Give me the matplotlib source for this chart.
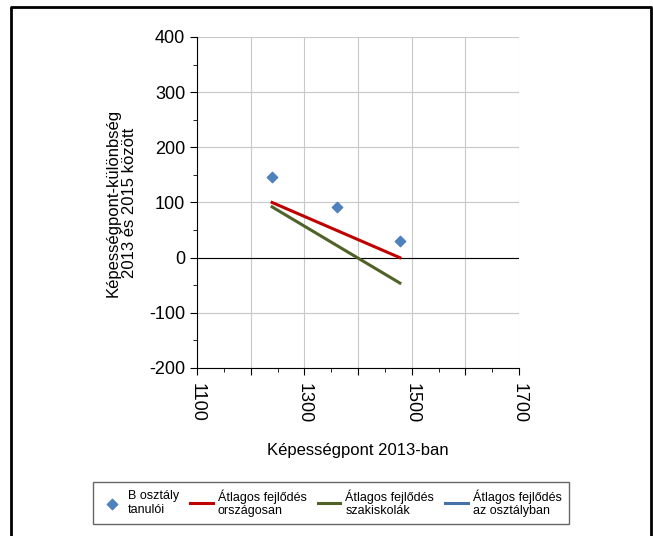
import matplotlib
matplotlib.use("Agg")
import matplotlib.pyplot as plt
from matplotlib.lines import Line2D
from matplotlib.ticker import MultipleLocator, FixedLocator

plt.rcParams['font.family'] = ['Liberation Sans', 'DejaVu Sans']
plt.rcParams['axes.unicode_minus'] = False

# adatok
tanulo_x = [1240, 1361, 1478]
tanulo_y = [146, 92, 30]
orszagos_x = [1240, 1478]
orszagos_y = [100, 0]
szakiskola_x = [1240, 1478]
szakiskola_y = [92, -46]

x_ticks = [1100, 1300, 1500, 1700]
y_ticks = [-200, -100, 0, 100, 200, 300, 400]

fig = plt.figure(figsize=(6.53, 5.36), dpi=100)
ax = fig.add_axes([197/653, 1-368/536, (519-197)/653, (368-37)/536])

ax.scatter(tanulo_x, tanulo_y, marker='D', s=28, color='#4F81BD', zorder=4,
           label='B osztály\ntanulói')
ax.plot(orszagos_x, orszagos_y, color='#C00000', lw=2.2, zorder=3,
        label='Átlagos fejlődés\nországosan')
ax.plot(szakiskola_x, szakiskola_y, color='#4F6228', lw=2.2, zorder=3,
        label='Átlagos fejlődés\nszakiskolák')
ax.plot([], [], color='#4572A7', lw=2.2, label='Átlagos fejlődés\naz osztályban')

ax.axhline(0, color='black', lw=0.8, zorder=2)

ax.set_xlim(1100, 1700)
ax.set_ylim(-200, 400)
ax.xaxis.set_minor_locator(MultipleLocator(50))
ax.yaxis.set_major_locator(FixedLocator(y_ticks))
ax.yaxis.set_minor_locator(MultipleLocator(50))
ax.set_xticks(range(1100, 1701, 100), minor=False)
ax.set_xticklabels([str(v) if v in x_ticks else '' for v in range(1100, 1701, 100)],
                   rotation=270)
ax.grid(True, which='major', color='#c8c8c8', lw=0.8)
ax.set_axisbelow(True)
for s in ['top', 'right']:
    ax.spines[s].set_visible(False)
ax.spines['left'].set_linewidth(0.8)
ax.spines['bottom'].set_linewidth(0.8)
ax.tick_params(axis='both', which='major', labelsize=13, length=5, width=0.8)
ax.tick_params(axis='both', which='minor', length=3, width=0.6)
ax.tick_params(axis='x', pad=6)

ax.set_xlabel('Képességpont 2013-ban', fontsize=12, labelpad=14)
ax.set_ylabel('Képességpont-különbség\n2013 és 2015 között', fontsize=12,
              labelpad=9, linespacing=1.05)

leg = fig.legend(loc='center', bbox_to_anchor=(331/653, 1-503/536), ncol=4,
                 fontsize=9, frameon=True, fancybox=False, edgecolor='#404040',
                 handlelength=1.8, columnspacing=0.9, handletextpad=0.4,
                 borderpad=0.55)
for t in leg.get_texts():
    t.set_linespacing(1.15)
leg.get_frame().set_linewidth(1.0)

# keret
fig.add_artist(Line2D([11/653, 11/653, 651/653, 651/653], [0, 1-7/536, 1-7/536, 0],
                      color='black', lw=2, transform=fig.transFigure))

fig.savefig('out.png', dpi=100)
